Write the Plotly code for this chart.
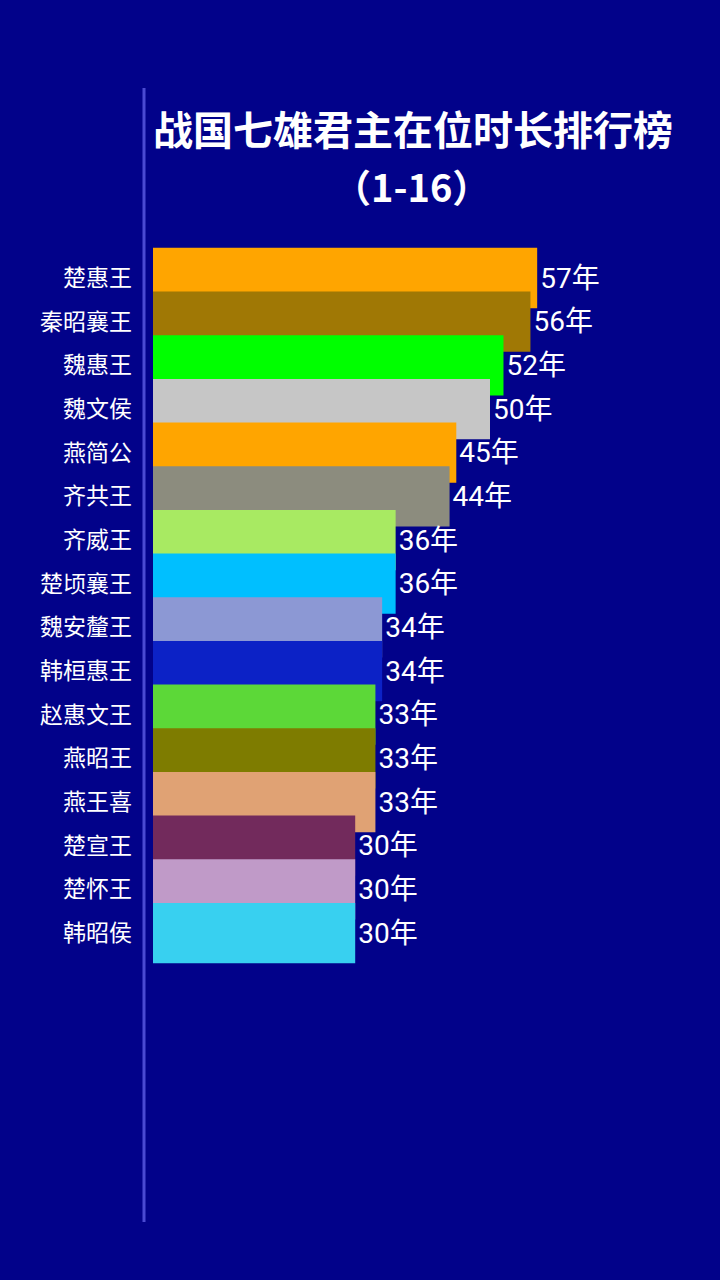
import plotly.graph_objects as go

names = ["楚惠王", "秦昭襄王", "魏惠王", "魏文侯", "燕简公", "齐共王", "齐威王", "楚顷襄王",
         "魏安釐王", "韩桓惠王", "赵惠文王", "燕昭王", "燕王喜", "楚宣王", "楚怀王", "韩昭侯"]
years = [57, 56, 52, 50, 45, 44, 36, 36, 34, 34, 33, 33, 33, 30, 30, 30]
colors = ["#FFA500", "#A07805", "#00FF00", "#C6C6C6", "#FFA500", "#8C8C7E", "#A8EA62", "#00BFFF",
          "#8C98D4", "#0C22C6", "#5CD838", "#7E7C00", "#E0A274", "#722A5C", "#C09AC8", "#38D0F0"]
labels = [f"{v}年" for v in years]

W, H = 720, 1280
pitch = 43.67
first_center = 278
y_top = -first_center / pitch
y_bot = (H - first_center) / pitch

fig = go.Figure()
fig.add_trace(go.Bar(
    y=list(range(len(names))), x=years, orientation="h",
    marker=dict(color=colors, line=dict(width=0)),
    width=1.38,
    text=labels, textposition="outside", cliponaxis=False,
    textfont=dict(color="white", size=28, family="Roboto, Noto Sans CJK SC"),
    hoverinfo="skip",
))

fig.update_layout(
    width=W, height=H,
    paper_bgcolor="#02028A", plot_bgcolor="#02028A",
    margin=dict(l=153, r=0, t=0, b=0),
    showlegend=False,
    xaxis=dict(range=[0, 567 / 6.74], visible=False, fixedrange=True),
    yaxis=dict(range=[y_bot, y_top], tickmode="array",
               tickvals=list(range(len(names))), ticktext=names,
               tickfont=dict(color="white", size=23, family="Noto Sans CJK SC"),
               showgrid=False, zeroline=False, showline=False, ticks="",
               ticklabelstandoff=20, fixedrange=True),
    shapes=[dict(type="line", xref="paper", yref="paper",
                 x0=-9 / 567, x1=-9 / 567, y0=1 - 88 / H, y1=1 - 1222 / H,
                 line=dict(color="#4A4AD2", width=3))],
    annotations=[
        dict(text="<b>战国七雄君主在位时长排行榜</b>", xref="paper", yref="paper",
             x=(413 - 153) / 567, y=1 - 128 / H, yanchor="middle", showarrow=False,
             font=dict(color="white", size=40, family="Noto Sans CJK SC")),
        dict(text="<b>（1-16）</b>", xref="paper", yref="paper",
             x=(411 - 153) / 567, y=1 - 186 / H, yanchor="middle", showarrow=False,
             font=dict(color="white", size=38, family="Noto Sans CJK SC")),
    ],
)

fig.write_html("out.html", config={"displayModeBar": False},
               post_script="document.body.style.margin='0';")
